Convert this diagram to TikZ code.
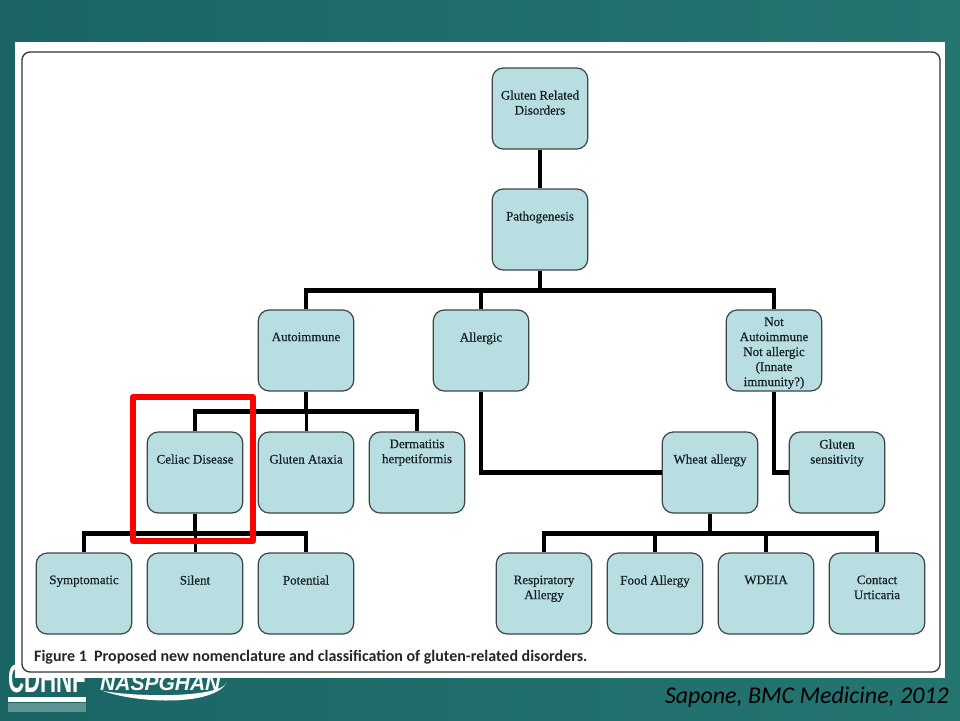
\documentclass[tikz,border=0pt]{standalone}
\usepackage{fontspec}
\setmainfont[RawFeature={embolden=0.5}]{Liberation Serif}
\newfontfamily\capfont{Carlito}
\newfontfamily\logofont{Liberation Sans}
\usetikzlibrary{calc}
\definecolor{teal1}{RGB}{31,110,108}
\definecolor{teal2}{RGB}{26,100,100}
\definecolor{teal3}{RGB}{36,116,112}
\definecolor{boxfill}{RGB}{184,222,226}
\definecolor{boxline}{RGB}{60,70,72}
\definecolor{inktext}{RGB}{20,32,36}
\newcommand{\boxt}[2][18pt]{\begin{minipage}[t][72pt][t]{94pt}\centering\vspace*{#1}#2\end{minipage}}
\tikzset{
  x=1pt,y=-1pt,
  nbox/.style={draw=boxline,line width=1.2pt,fill=boxfill,rounded corners=11pt,minimum width=95.5pt,minimum height=81pt,inner sep=0pt,
    font=\fontsize{13}{15}\selectfont,text=inktext},
  conn/.style={draw=black,line width=4.5pt},
  logo/.style={text=white,inner sep=0pt,anchor=west},
}
\begin{document}
\begin{tikzpicture}
\useasboundingbox (0,0) rectangle (960,720);
% background
\shade[left color=teal2,right color=teal3,middle color=teal1] (0,0) rectangle (960,720);
% logos
\node[logo,font=\logofont\bfseries\fontsize{36}{36}\selectfont,xscale=.62,yscale=1.1] (cdhnf) at (8,679) {CDHNF};
\fill[white] (8,697) rectangle (86,702);
\fill[white,opacity=.3] (8,703) rectangle (86,712);
\node[logo,font=\logofont\bfseries\itshape\fontsize{21}{21}\selectfont] (nasp) at (100,683) {NASPGHAN};
\fill[white] (103,691) .. controls (140,704) and (215,706) .. (227,682) .. controls (222,697) and (145,698) .. (103,691) -- cycle;
% panel
\fill[white] (15,42) rectangle (945,678);
\draw[black!80,line width=1.3pt,rounded corners=8pt] (22,52) rectangle (940,672);
% nodes
\node[nbox] (root) at (540,108.5) {\boxt{Gluten Related\\Disorders}};
\node[nbox] (path) at (540,229.5) {\boxt{Pathogenesis}};
\node[nbox] (auto) at (306,350.5) {\boxt{Autoimmune}};
\node[nbox] (alle) at (481,350.5) {\boxt{Allergic}};
\node[nbox] (nota) at (774,350.5) {\boxt[3pt]{Not\\Autoimmune\\Not allergic\\(Innate\\immunity?)}};
\node[nbox] (celi) at (195,472.5) {\boxt{Celiac Disease}};
\node[nbox] (atax) at (306,472.5) {\boxt{Gluten Ataxia}};
\node[nbox] (derm) at (417,472.5) {\boxt[3pt]{Dermatitis\\herpetiformis}};
\node[nbox] (whea) at (710,472.5) {\boxt{Wheat allergy}};
\node[nbox] (gsen) at (837,472.5) {\boxt[3pt]{Gluten\\sensitivity}};
\node[nbox] (symp) at (84,593.5) {\boxt{Symptomatic}};
\node[nbox] (sile) at (195,593.5) {\boxt{Silent}};
\node[nbox] (pote) at (306,593.5) {\boxt{Potential}};
\node[nbox] (resp) at (544,593.5) {\boxt{Respiratory\\Allergy}};
\node[nbox] (food) at (655,593.5) {\boxt{Food Allergy}};
\node[nbox] (wdei) at (766,593.5) {\boxt{WDEIA}};
\node[nbox] (cont) at (877,593.5) {\boxt{Contact\\Urticaria}};
% bus points
\coordinate (busa) at ($(path.south)+(0,20)$);
\coordinate (busb) at ($(auto.south)+(0,20)$);
\coordinate (busc) at ($(celi.south)+(0,20)$);
\coordinate (busd) at ($(whea.south)+(0,20)$);
% connectors
\draw[conn] (root.south) -- (path.north);
\draw[conn] (path.south) -- (busa);
\draw[conn] (busa) -| (auto.north);
\draw[conn] (busa) -| (alle.north);
\draw[conn] (busa) -| (nota.north);
\draw[conn] (auto.south) -- (busb);
\draw[conn] (busb) -| (celi.north);
\draw[conn,line width=3pt] (busb) -- (atax.north);
\draw[conn] (busb) -| (derm.north);
\draw[conn] (alle.south) |- (whea.west);
\draw[conn] (nota.south) |- (gsen.west);
\draw[conn] (celi.south) -- (busc);
\draw[conn] (busc) -| (symp.north);
\draw[conn,line width=3pt] (busc) -- (sile.north);
\draw[conn] (busc) -| (pote.north);
\draw[conn] (whea.south) -- (busd);
\draw[conn] (busd) -| (resp.north);
\draw[conn] (busd) -| (food.north);
\draw[conn] (busd) -| (wdei.north);
\draw[conn] (busd) -| (cont.north);
% highlight
\draw[red,line width=6pt,line join=round] (133,397) rectangle (253,541);
% caption
\node[anchor=west,inner sep=0pt,text=black!85,font=\capfont\bfseries\fontsize{16}{16}\selectfont] (capt) at (34,657) {Figure 1\ \ Proposed new nomenclature and classification of gluten-related disorders.};
\node[anchor=east,inner sep=0pt,text=black,font=\capfont\itshape\fontsize{24}{26}\selectfont] (cred) at (949,697) {Sapone, BMC Medicine, 2012};
\end{tikzpicture}
\end{document}
